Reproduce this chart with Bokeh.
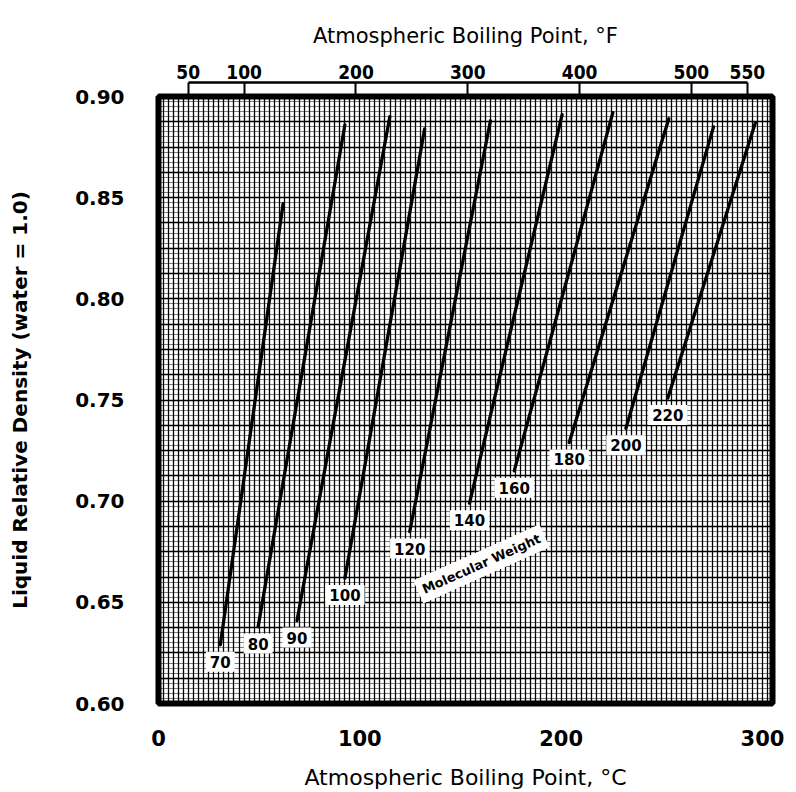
from bokeh.plotting import figure
from bokeh.models import (Range1d, LinearAxis, FixedTicker, SingleIntervalTicker, Grid,
                          ColumnDataSource, Label, PrintfTickFormatter, CustomLabelingPolicy)
from bokeh.core.properties import value
from bokeh.embed import file_html
from bokeh.resources import INLINE

# ---------------- data ----------------
mol_weight = [70, 80, 90, 100, 120, 140, 160, 180, 200, 220]
bp_low_c = [30.7, 49.5, 68.8, 92.6, 124.8, 154.5, 176.7, 204.0, 232.2, 253.0]
sg_low = [0.629, 0.638, 0.641, 0.662, 0.685, 0.699, 0.715, 0.729, 0.736, 0.751]
bp_high_c = [61.9, 92.6, 114.9, 132.2, 164.9, 200.5, 225.7, 253.5, 275.7, 296.5]
sg_high = [0.847, 0.886, 0.890, 0.884, 0.888, 0.891, 0.892, 0.889, 0.885, 0.887]

y_ticks = [0.60, 0.65, 0.70, 0.75, 0.80, 0.85, 0.90]
x_ticks_c = [0, 100, 200, 300]
x_ticks_f = [50, 100, 200, 300, 400, 500, 550]

mw_note = "Molecular Weight"
mw_note_x = 160.4
mw_note_y = 0.669

NUM_FONT = "DejaVu Sans"
TXT_FONT = "DejaVu Sans"
NARROW_FONT = "DejaVu Sans Condensed, DejaVu Sans"

p = figure(width=796, height=792,
           x_range=Range1d(0, 305), y_range=Range1d(0.60, 0.90),
           output_backend="svg", toolbar_location=None,
           min_border_left=158, min_border_right=24,
           min_border_top=96, min_border_bottom=89,
           background_fill_color="white", border_fill_color="white")

p.outline_line_color = "black"
p.outline_line_width = 6
p.grid.visible = False

# dense graph-paper grid
p.add_layout(Grid(dimension=0, ticker=SingleIntervalTicker(interval=2.5),
                  grid_line_color="black", grid_line_width=1.3))
p.add_layout(Grid(dimension=1, ticker=SingleIntervalTicker(interval=0.0025),
                  grid_line_color="black", grid_line_width=1, grid_line_dash="1 1"))
p.add_layout(Grid(dimension=1, ticker=SingleIntervalTicker(interval=0.0125),
                  grid_line_color="black", grid_line_width=1.5))

# molecular weight lines
src = ColumnDataSource(dict(
    x0=bp_low_c, y0=sg_low, x1=bp_high_c, y1=sg_high,
    mw=[str(m) for m in mol_weight]))
p.segment(x0="x0", y0="y0", x1="x1", y1="y1", source=src,
          line_color="black", line_width=3.3, line_cap="round")

p.text(x="x0", y="y0", text="mw", source=src, y_offset=17,
       text_align="center", text_baseline="middle",
       text_font=value(NUM_FONT), text_font_size="15px", text_font_style="bold",
       text_color="black", background_fill_color="white", padding=4)

note = Label(x=mw_note_x, y=mw_note_y, text=mw_note, angle=24, angle_units="deg",
             text_align="center", text_baseline="middle",
             text_font=TXT_FONT, text_font_size="13px", text_font_style="bold",
             text_color="black", padding=5,
             background_fill_color="white", background_fill_alpha=1.0)
p.add_layout(note)

# bottom axis (deg C)
xa = p.xaxis[0]
xa.ticker = FixedTicker(ticks=x_ticks_c)
xa.axis_line_color = None
xa.major_tick_line_color = None
xa.minor_tick_line_color = None
xa.major_label_standoff = 20
xa.major_label_text_font = NUM_FONT
xa.major_label_text_font_size = "21px"
xa.major_label_text_font_style = "bold"
xa.major_label_text_color = "black"
xa.axis_label = "Atmospheric Boiling Point, °C"
xa.axis_label_standoff = 16
xa.axis_label_text_font = TXT_FONT
xa.axis_label_text_font_size = "22px"
xa.axis_label_text_font_style = "normal"
xa.axis_label_text_color = "black"

# left axis
ya = p.yaxis[0]
ya.ticker = FixedTicker(ticks=y_ticks)
ya.formatter = PrintfTickFormatter(format="%.2f")
ya.axis_line_color = None
ya.major_tick_line_color = None
ya.minor_tick_line_color = None
ya.major_label_standoff = 28
ya.major_label_text_font = NUM_FONT
ya.major_label_text_font_size = "20px"
ya.major_label_text_font_style = "bold"
ya.major_label_text_color = "black"
ya.axis_label = "Liquid Relative Density (water = 1.0)"
ya.axis_label_standoff = 40
ya.axis_label_text_font = TXT_FONT
ya.axis_label_text_font_size = "20px"
ya.axis_label_text_font_style = "bold"
ya.axis_label_text_color = "black"

# top axis (deg F) drawn as a bracket: tick axis nearest the frame, labelled axis above
p.extra_x_ranges = {"F": Range1d(23.4, 572.5)}
ax_ticks = LinearAxis(x_range_name="F", ticker=FixedTicker(ticks=x_ticks_f),
                      bounds=(50, 550), major_tick_out=14, major_tick_in=0,
                      major_tick_line_width=2, major_tick_line_color="black",
                      axis_line_color=None,
                      minor_tick_out=0, minor_tick_in=0,
                      major_label_text_font_size="0px", major_label_standoff=0,
                      major_label_policy=CustomLabelingPolicy(code="return new Set()"))
ax_top = LinearAxis(x_range_name="F", ticker=FixedTicker(ticks=x_ticks_f),
                    bounds=(50, 550), major_tick_out=0, major_tick_in=0,
                    minor_tick_out=0, minor_tick_in=0,
                    axis_line_width=2.5, axis_line_color="black",
                    major_label_standoff=4,
                    major_label_text_font=NARROW_FONT,
                    major_label_text_font_size="19px",
                    major_label_text_font_style="bold",
                    major_label_text_color="black",
                    axis_label="Atmospheric Boiling Point, °F",
                    axis_label_standoff=14,
                    axis_label_text_font=TXT_FONT,
                    axis_label_text_font_size="21px",
                    axis_label_text_font_style="normal",
                    axis_label_text_color="black")
p.add_layout(ax_ticks, "above")
p.add_layout(ax_top, "above")

open("out.html", "w").write(file_html(p, INLINE))
